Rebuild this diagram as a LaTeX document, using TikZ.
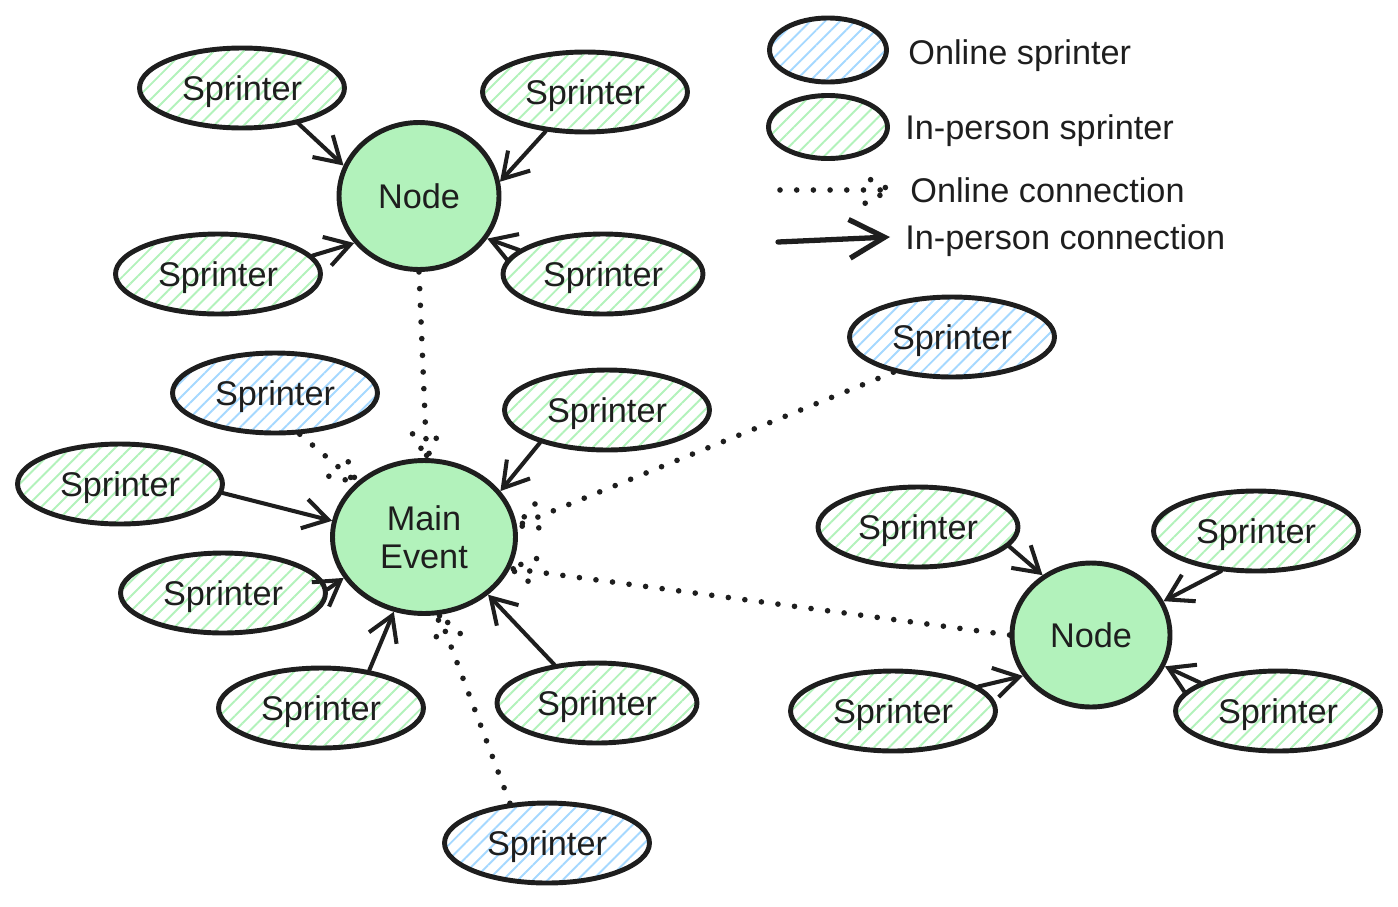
\documentclass[tikz,border=0pt]{standalone}
\usepackage{fontspec}
\setmainfont{Liberation Sans}
\usetikzlibrary{shapes.geometric, arrows.meta, calc, patterns.meta}
\definecolor{inkblack}{RGB}{30, 30, 30}
\definecolor{hubgreen}{RGB}{178, 242, 187}
\definecolor{hatchgreen}{RGB}{178, 242, 187}
\definecolor{hatchblue}{RGB}{165, 216, 255}

\tikzset{
  sprinter/.style={ellipse, draw=inkblack, line width=2.8pt, inner sep=0pt,
    minimum width=4.1cm, minimum height=1.6cm, text=inkblack, text depth=0pt,
    font=\fontsize{19.5}{21.5}\selectfont},
  inpersonsprinter/.style={sprinter, pattern={Lines[angle=45, distance=6pt, line width=1.1pt]}, pattern color=hatchgreen},
  onlinesprinter/.style={sprinter, pattern={Lines[angle=45, distance=6pt, line width=1.1pt]}, pattern color=hatchblue},
  hub/.style={ellipse, draw=inkblack, fill=hubgreen, line width=2.8pt, inner sep=0pt,
    align=center, text=inkblack, font=\fontsize{19.5}{21.5}\selectfont},
  inpersonlink/.style={draw=inkblack, line width=2.3pt, line cap=round, line join=round,
    -{Straight Barb[length=14pt, width=17pt, line width=2.3pt]}},
  onlinelink/.style={draw=inkblack, line width=3.2pt, line cap=round, dash pattern=on 0pt off 9.5pt},
  legendtext/.style={anchor=west, inner sep=0pt, text=inkblack, text depth=0pt,
    font=\fontsize{19.5}{21.5}\selectfont},
}

% dotted connector with a dotted open head
\newcommand{\onlinearrow}[2]{%
  \draw[onlinelink] (#1) -- (#2) coordinate[pos=0] (tailpt) coordinate[pos=1] (tippt);
  \draw[onlinelink] ($(tippt)!16pt!28:(tailpt)$) -- (tippt) -- ($(tippt)!16pt!-28:(tailpt)$);
}

\begin{document}
\begin{tikzpicture}[x=0.02cm, y=-0.02cm]
  \useasboundingbox (0,0) rectangle (1398,906);

  % Top node with its sprinters
  \node[hub, minimum width=3.2cm, minimum height=2.94cm] (topnode) at (419,196) {Node};
  \node[inpersonsprinter] (topsprA) at (242,88) {Sprinter};
  \node[inpersonsprinter] (topsprB) at (585,92) {Sprinter};
  \node[inpersonsprinter] (topsprC) at (218,274) {Sprinter};
  \node[inpersonsprinter, minimum width=4cm] (topsprD) at (603,274) {Sprinter};

  \draw[inpersonlink] (topsprA.-32) -- (topnode.158);
  \draw[inpersonlink] (topsprB.225) -- (topnode.10);
  \draw[inpersonlink] (topsprC.11) -- (topnode.216);
  \draw[inpersonlink] (topsprD.164) -- (topnode.-32);

  % Main event with its sprinters
  \node[hub, minimum width=3.66cm, minimum height=3.06cm] (mainevent) at (424,537) {Main\\Event};
  \node[onlinesprinter] (mainsprA) at (275,393) {Sprinter};
  \node[inpersonsprinter] (mainsprB) at (607,410) {Sprinter};
  \node[inpersonsprinter] (mainsprC) at (120,484) {Sprinter};
  \node[inpersonsprinter] (mainsprD) at (223,593) {Sprinter};
  \node[inpersonsprinter] (mainsprE) at (321,708) {Sprinter};
  \node[inpersonsprinter, minimum width=4cm] (mainsprF) at (597,703) {Sprinter};
  \node[onlinesprinter] (mainsprG) at (547,843) {Sprinter};
  \node[onlinesprinter] (farspr) at (952,337) {Sprinter};

  \draw[inpersonlink] (mainsprB.206) -- (mainevent.31);
  \draw[inpersonlink] (mainsprC.-5) -- (mainevent.170);
  \draw[inpersonlink] (mainsprD.2) -- (mainevent.207);
  \draw[inpersonlink] (mainsprE.38) -- (mainevent.248);
  \draw[inpersonlink] (mainsprF.138) -- (mainevent.-42);

  % Right node with its sprinters
  \node[hub, minimum width=3.16cm, minimum height=2.88cm] (rightnode) at (1091,635) {Node};
  \node[inpersonsprinter, minimum width=4cm] (rightsprA) at (918,527) {Sprinter};
  \node[inpersonsprinter] (rightsprB) at (1256,531) {Sprinter};
  \node[inpersonsprinter] (rightsprC) at (893,711) {Sprinter};
  \node[inpersonsprinter] (rightsprD) at (1278,711) {Sprinter};

  \draw[inpersonlink] (rightsprA.-12) -- (rightnode.129);
  \draw[inpersonlink] (rightsprB.229) -- (rightnode.25);
  \draw[inpersonlink] (rightsprC.16) -- (rightnode.211);
  \draw[inpersonlink] (rightsprD.160) -- (rightnode.-23);

  % Online connections
  \onlinearrow{topnode.270}{mainevent.88}
  \onlinearrow{mainsprA.-59}{mainevent.141}
  \onlinearrow{mainsprG.133}{mainevent.-79}
  \onlinearrow{farspr.211}{mainevent.7}
  \onlinearrow{rightnode.180}{mainevent.-20}

  % Legend
  \node[onlinesprinter, minimum width=2.34cm, minimum height=1.28cm] (legonline) at (828,50) {};
  \node[inpersonsprinter, minimum width=2.38cm, minimum height=1.26cm] (leginperson) at (828,127) {};
  \node[legendtext] (legonlinetext) at (908,52) {Online sprinter};
  \node[legendtext] (leginpersontext) at (905,127) {In-person sprinter};
  \coordinate (dotstart) at (780,190);
  \coordinate (dotend) at (890,190);
  \onlinearrow{dotstart}{dotend}
  \node[legendtext] (legdottext) at (910,190) {Online connection};
  \coordinate (solidstart) at (778,242);
  \coordinate (solidend) at (890,237);
  \draw[inpersonlink, line width=3pt, -{Straight Barb[length=20pt, width=22pt, line width=3pt]}] (solidstart) -- (solidend);
  \node[legendtext] (legsolidtext) at (905,237) {In-person connection};
\end{tikzpicture}
\end{document}
